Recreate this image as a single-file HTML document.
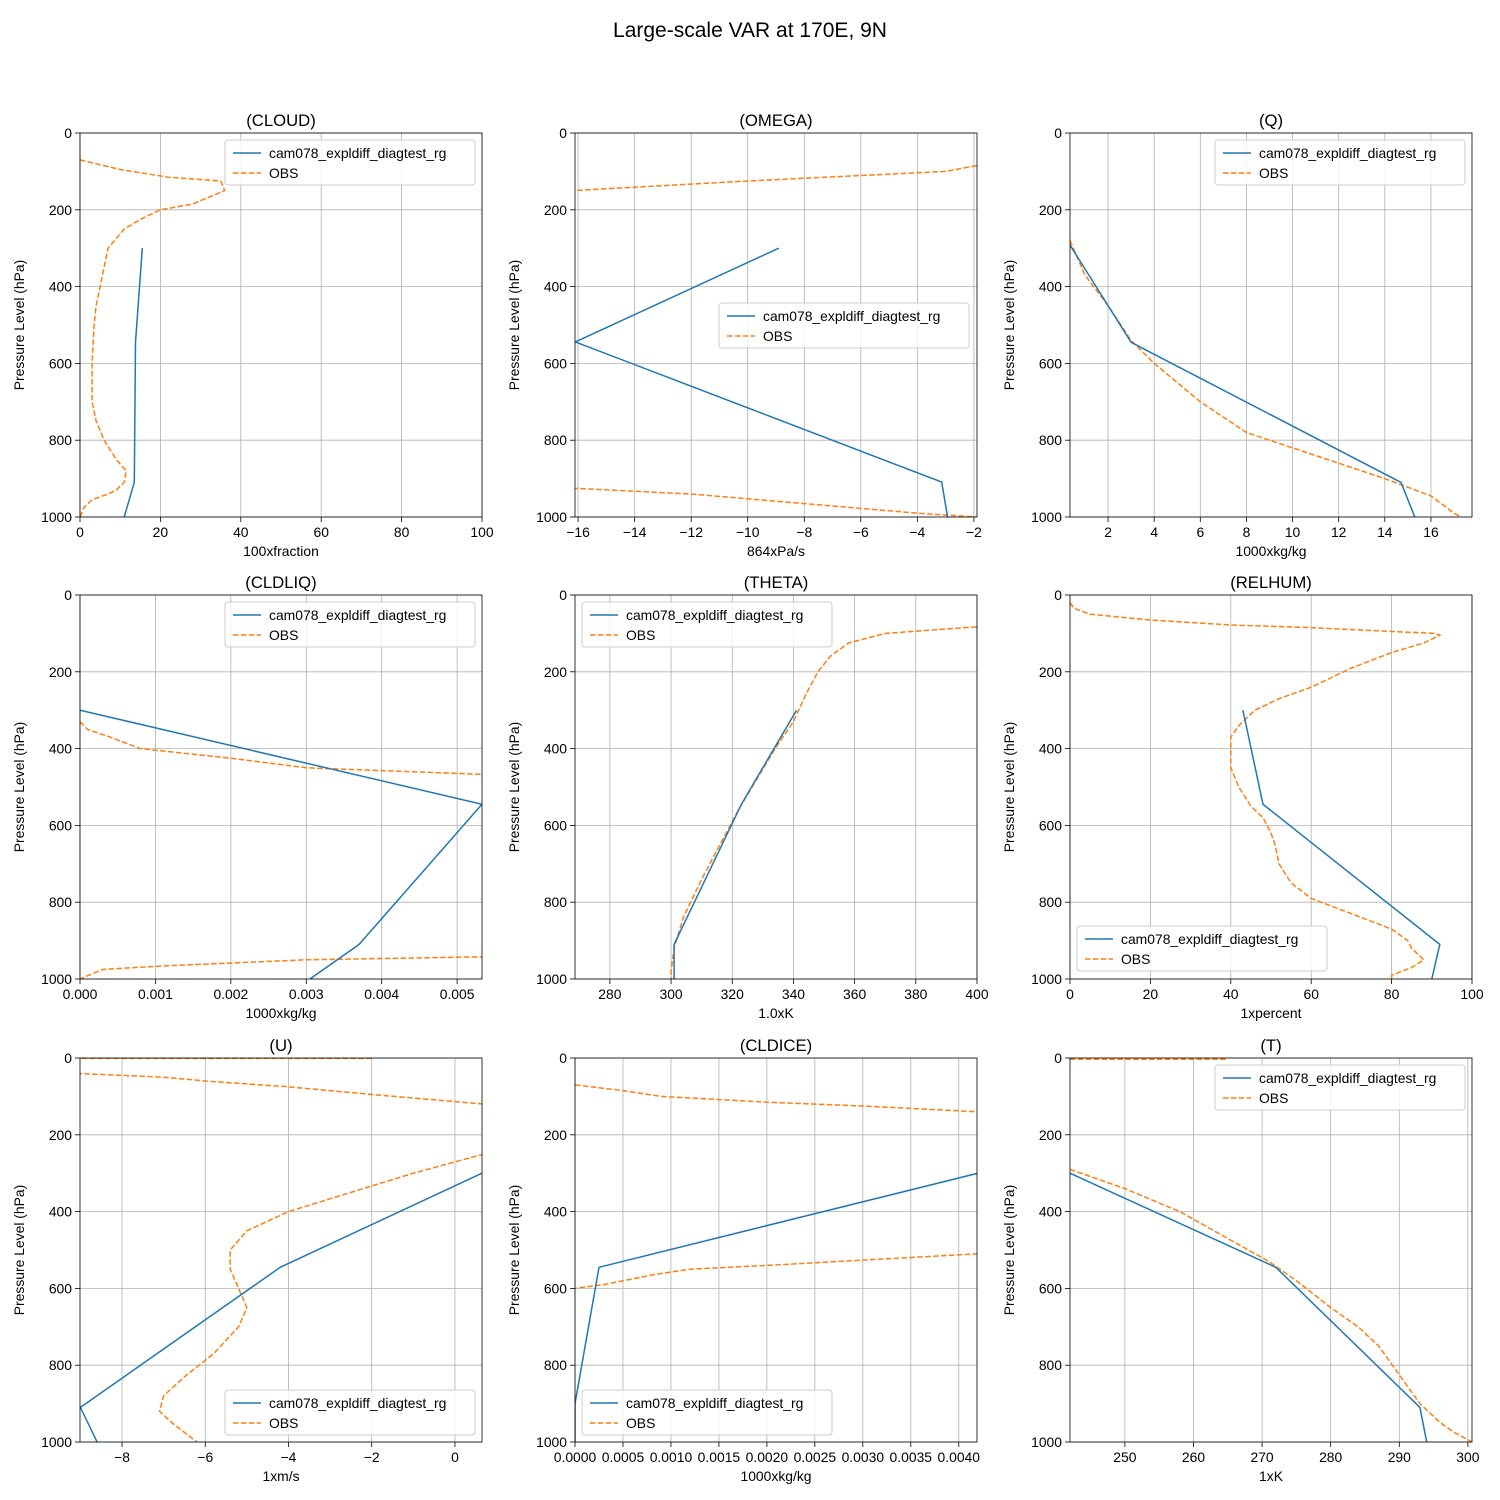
<!DOCTYPE html>
<html><head><meta charset="utf-8">
<style>
body{margin:0;background:#fff;}
svg{display:block;font-family:"Liberation Sans","DejaVu Sans",sans-serif;}
</style></head>
<body>
<svg id="fig" width="1500" height="1500" viewBox="0 0 1500 1500">
<rect width="1500" height="1500" fill="#fff"/>
<text x="750" y="37" text-anchor="middle" font-size="21">Large-scale VAR at 170E, 9N</text>
</svg>
<script>
const pressureTicks=[0,200,400,600,800,1000];
const modelName="cam078_expldiff_diagtest_rg";
const cloudModelX=[15.5,13.8,13.5,11];
const cloudModelP=[300,545,910,1000];
const cloudObsX=[0,10,22,35,36,28,20,15,11,7,6,5,4,3.5,3,3,4,6,9,11.5,11,9,7,3,1,0];
const cloudObsP=[70,95,115,125,150,185,200,225,250,300,350,400,450,500,600,700,750,800,850,880,910,930,940,955,975,1000];
const omegaModelX=[-8.9,-16.1,-3.14,-2.93];
const omegaModelP=[300,544,909,1000];
const omegaObsX=[-1.9,-3,-10,-16.2,null,-16.2,-12,-8,-4,-1.9];
const omegaObsP=[85,100,125,150,null,925,940,965,990,1000];
const qModelX=[0.35,3,14.7,15.3];
const qModelP=[292,545,910,1000];
const qObsX=[0.35,1,2,3,4,6,8,10,12,14,16,17,17.3];
const qObsP=[280,370,450,540,600,700,780,820,860,900,945,990,1000];
const cldliqModelX=[0,0.00533,0.0037,0.00305];
const cldliqModelP=[300,545,910,1000];
const cldliqObsX=[0,0.0001,0.0004,0.0008,0.002,0.003,0.006,null,0.006,0.003,0.0012,0.0003,0];
const cldliqObsP=[330,350,370,400,425,450,472,null,940,950,965,975,1000];
const thetaModelX=[341,323,301,301];
const thetaModelP=[300,545,910,1000];
const thetaObsX=[405,370,358,352,348,344,340,334,328,322,316,310,304,301,300,300];
const thetaObsP=[80,100,125,160,200,260,330,400,480,560,650,740,840,920,980,1000];
const relhumModelX=[43,48,92,90];
const relhumModelP=[300,545,910,1000];
const relhumObsX=[0,1,5,20,40,60,80,91,92,88,80,70,60,52,46,42,40,40,40,42,45,48,50,51,52,55,60,70,80,84,85,87,88,85,80,80];
const relhumObsP=[20,35,50,65,78,85,95,100,105,125,150,190,240,270,300,340,370,400,450,500,550,580,620,650,700,750,790,830,870,900,920,940,950,970,990,1000];
const uModelX=[0.65,-4.2,-9.0,-8.6];
const uModelP=[300,545,910,1000];
const uObsX=[-2,-9.1,null,-9.1,-7,-6,-4,-2,0.7,null,0.7,-1,-2.5,-4,-5,-5.4,-5.4,-5.2,-5,-5.2,-5.8,-6.5,-7,-7.1,-6.8,-6.2];
const uObsP=[1,1,null,40,50,60,75,95,120,null,250,300,350,400,450,500,550,600,650,700,770,830,880,920,950,1000];
const cldiceModelX=[0.0042,0.00025,0,0];
const cldiceModelP=[300,545,900,1000];
const cldiceObsX=[0,0.0005,0.0009,0.002,0.003,0.0042,null,0.0042,0.002,0.0012,0.0008,0.0003,0];
const cldiceObsP=[70,85,100,115,125,140,null,510,540,550,565,590,600];
const tModelX=[242,272,293,294];
const tModelP=[300,545,910,1000];
const tObsX=[242,265,null,242,250,258,265,271,275,280,284,287,289,291,293,296,298,300.6];
const tObsP=[3,3,null,290,340,400,470,530,580,650,700,750,800,850,900,950,975,1000];

const cloudTicks=[0,20,40,60,80,100];
const omegaTicks=[-16,-14,-12,-10,-8,-6,-4,-2];
const qTicks=[2,4,6,8,10,12,14,16];
const cldliqTicks=[0,0.001,0.002,0.003,0.004,0.005];
const thetaTicks=[280,300,320,340,360,380,400];
const relhumTicks=[0,20,40,60,80,100];
const uTicks=[-8,-6,-4,-2,0];
const cldiceTicks=[0,0.0005,0.001,0.0015,0.002,0.0025,0.003,0.0035,0.004];
const tTicks=[250,260,270,280,290,300];

const NS="http://www.w3.org/2000/svg";
const fig=document.getElementById('fig');
function mk(tag,attrs,parent){const e=document.createElementNS(NS,tag);for(const k in attrs)e.setAttribute(k,attrs[k]);(parent||fig).appendChild(e);return e;}
function fmt(v,d){let s=v.toFixed(d);if(v<0)s='\u2212'+s.slice(1);return s;}

const panels=[
 {id:'cloud',t:'(CLOUD)',c:0,r:0,x0:0,x1:100,ticks:cloudTicks,d:0,lab:'100xfraction',mx:cloudModelX,mp:cloudModelP,ox:cloudObsX,op:cloudObsP,leg:[225,140]},
 {id:'omega',t:'(OMEGA)',c:1,r:0,x0:-16.11,x1:-1.89,ticks:omegaTicks,d:0,lab:'864xPa/s',mx:omegaModelX,mp:omegaModelP,ox:omegaObsX,op:omegaObsP,leg:[719,303]},
 {id:'q',t:'(Q)',c:2,r:0,x0:0.35,x1:17.78,ticks:qTicks,d:0,lab:'1000xkg/kg',mx:qModelX,mp:qModelP,ox:qObsX,op:qObsP,leg:[1215,140]},
 {id:'cldliq',t:'(CLDLIQ)',c:0,r:1,x0:0,x1:0.00533,ticks:cldliqTicks,d:3,lab:'1000xkg/kg',mx:cldliqModelX,mp:cldliqModelP,ox:cldliqObsX,op:cldliqObsP,leg:[225,602]},
 {id:'theta',t:'(THETA)',c:1,r:1,x0:268.6,x1:400,ticks:thetaTicks,d:0,lab:'1.0xK',mx:thetaModelX,mp:thetaModelP,ox:thetaObsX,op:thetaObsP,leg:[582,602]},
 {id:'relhum',t:'(RELHUM)',c:2,r:1,x0:0,x1:100,ticks:relhumTicks,d:0,lab:'1xpercent',mx:relhumModelX,mp:relhumModelP,ox:relhumObsX,op:relhumObsP,leg:[1077,926]},
 {id:'u',t:'(U)',c:0,r:2,x0:-9.01,x1:0.65,ticks:uTicks,d:0,lab:'1xm/s',mx:uModelX,mp:uModelP,ox:uObsX,op:uObsP,leg:[225,1390]},
 {id:'cldice',t:'(CLDICE)',c:1,r:2,x0:0,x1:0.00419,ticks:cldiceTicks,d:4,lab:'1000xkg/kg',mx:cldiceModelX,mp:cldiceModelP,ox:cldiceObsX,op:cldiceObsP,leg:[582,1390]},
 {id:'t',t:'(T)',c:2,r:2,x0:242,x1:300.6,ticks:tTicks,d:0,lab:'1xK',mx:tModelX,mp:tModelP,ox:tObsX,op:tObsP,leg:[1215,1065]}
];
const colL=[80,575,1070], rowT=[133,595,1058], W=402, H=384;

panels.forEach(p=>{
 const L=colL[p.c],T=rowT[p.r];
 const g=mk('g',{});
 
 
 const sx=v=>L+(v-p.x0)/(p.x1-p.x0)*W;
 const sy=v=>T+v/1000*H;
 const cid='clip-'+p.id;
 const cp=mk('clipPath',{id:cid},g);mk('rect',{x:L,y:T,width:W,height:H},cp);
 // grid + ticks
 p.ticks.forEach(v=>{
  const x=sx(v);
  const gl=mk('line',{x1:x,x2:x,y1:T,y2:T+H,stroke:'#b0b0b0','stroke-width':0.8},g);
  
  
  mk('line',{x1:x,x2:x,y1:T+H,y2:T+H+5,stroke:'#000','stroke-width':0.8},g);
  const tx=mk('text',{x:x,y:T+H+20,'text-anchor':'middle','font-size':13.9},g);
  tx.textContent=fmt(v,p.d);
  
  
 });
 pressureTicks.forEach(v=>{
  const y=sy(v);
  const gl=mk('line',{x1:L,x2:L+W,y1:y,y2:y,stroke:'#b0b0b0','stroke-width':0.8},g);
  
  
  mk('line',{x1:L-5,x2:L,y1:y,y2:y,stroke:'#000','stroke-width':0.8},g);
  const tx=mk('text',{x:L-8,y:y+5,'text-anchor':'end','font-size':13.9},g);
  tx.textContent=String(v);
  
  
 });
 // series
 function path(xs,ps){let d='',pen=false;for(let i=0;i<xs.length;i++){if(xs[i]===null){pen=false;continue;}d+=(pen?'L':'M')+sx(xs[i]).toFixed(1)+','+sy(ps[i]).toFixed(1);pen=true;}return d;}
 const obs=mk('path',{d:path(p.ox,p.op),fill:'none',stroke:'#ff7f0e','stroke-width':1.5,'stroke-dasharray':'5.5,2.4','clip-path':'url(#'+cid+')'},g);
 
 
 const mod=mk('path',{d:path(p.mx,p.mp),fill:'none',stroke:'#1f77b4','stroke-width':1.5,'clip-path':'url(#'+cid+')'},g);
 
 
 mk('rect',{x:L,y:T,width:W,height:H,fill:'none',stroke:'#000','stroke-width':0.8},g);
 const tt=mk('text',{x:L+W/2,y:T-7,'text-anchor':'middle','font-size':16.7},g);
 tt.textContent=p.t;
 
 
 const xl=mk('text',{x:L+W/2,y:T+H+39,'text-anchor':'middle','font-size':13.9},g);
 xl.textContent=p.lab;
 
 
 const yl=mk('text',{x:0,y:0,'text-anchor':'middle','font-size':13.9,transform:'translate('+(L-56)+','+(T+H/2)+') rotate(-90)'},g);
 yl.textContent='Pressure Level (hPa)';
 
 
 // legend
 const [lx,ly]=p.leg;
 const lg=mk('g',{},g);
 
 
 mk('rect',{x:lx,y:ly,width:250,height:45,rx:3,fill:'#fff','fill-opacity':0.8,stroke:'#ccc'},lg);
 mk('line',{x1:lx+8,x2:lx+36,y1:ly+13,y2:ly+13,stroke:'#1f77b4','stroke-width':1.5},lg);
 mk('line',{x1:lx+8,x2:lx+36,y1:ly+33,y2:ly+33,stroke:'#ff7f0e','stroke-width':1.5,'stroke-dasharray':'5.5,2.4'},lg);
 const e1=mk('text',{x:lx+44,y:ly+18,'font-size':13.9},lg);e1.textContent=modelName;
 
 
 const e2=mk('text',{x:lx+44,y:ly+38,'font-size':13.9},lg);e2.textContent='OBS';
 
 
});
</script>
</body></html>
